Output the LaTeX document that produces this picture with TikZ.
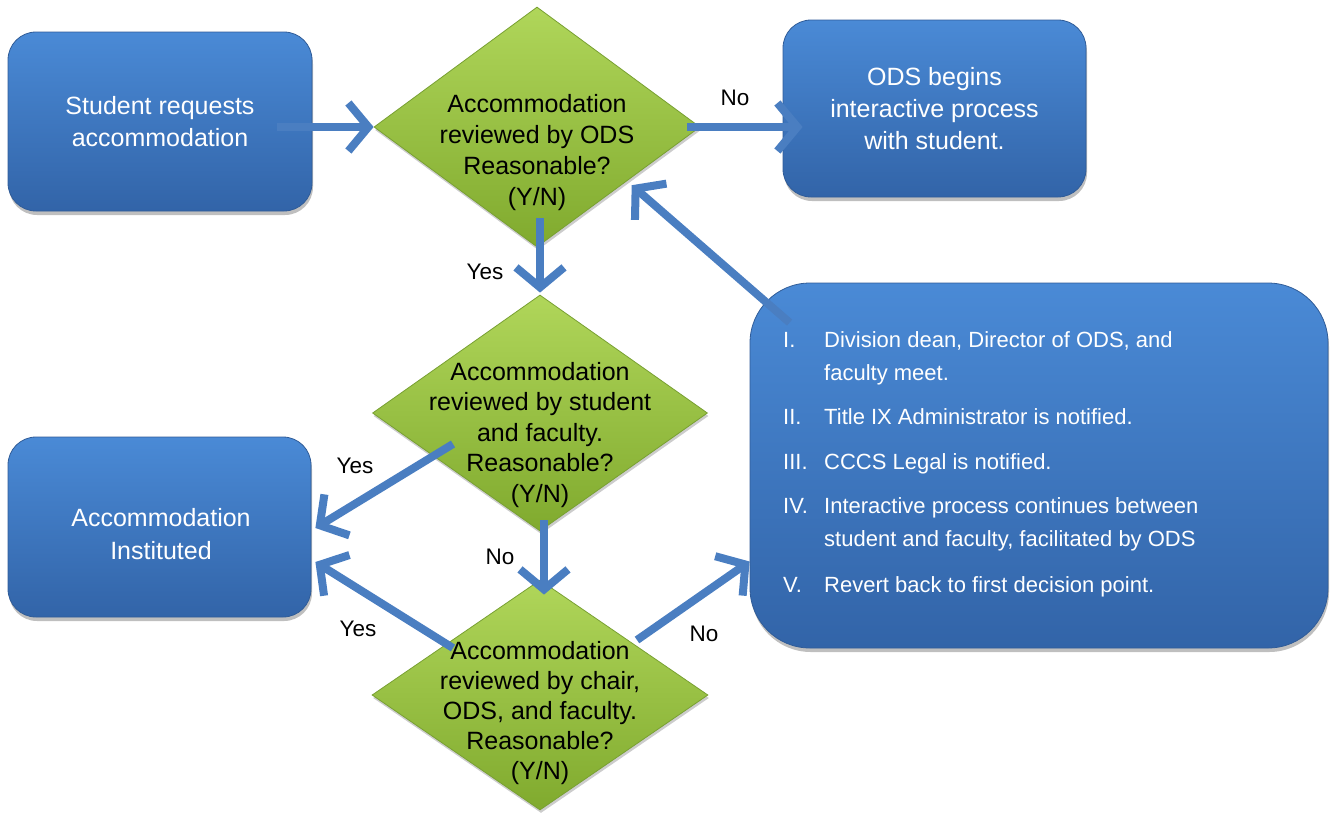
\documentclass[tikz,border=0pt]{standalone}
\usepackage{fontspec}
\setmainfont{Liberation Sans}
\usetikzlibrary{shapes.geometric,arrows.meta,shadows,calc}

\definecolor{boxtop}{RGB}{74,138,214}
\definecolor{boxbot}{RGB}{50,100,168}
\definecolor{boxedge}{RGB}{48,92,152}
\definecolor{dtop}{RGB}{176,214,90}
\definecolor{dbot}{RGB}{128,170,46}
\definecolor{dedge}{RGB}{120,160,50}
\definecolor{flowblue}{RGB}{74,126,193}

\tikzset{
  bluebox/.style={rectangle, rounded corners=28pt, top color=boxtop, bottom color=boxbot,
    draw=boxedge, line width=0.8pt, text=white, align=center,
    font=\fontsize{25}{32}\selectfont,
    drop shadow={shadow xshift=1pt, shadow yshift=-4pt, opacity=0.25, fill=black}},
  boxtext/.style={align=center, text=white, font=\fontsize{25}{33}\selectfont},
  decision/.style={diamond, inner sep=0pt, top color=dtop, bottom color=dbot,
    draw=dedge, line width=0.8pt,
    drop shadow={shadow xshift=1pt, shadow yshift=-3pt, opacity=0.2, fill=black}},
  dtext/.style={align=center, text=black, font=\fontsize{25}{31}\selectfont},
  flow/.style={draw=flowblue, line width=8pt,
    -{Straight Barb[length=20pt, width=48pt, line width=8pt]}},
  lbl/.style={text=black, font=\fontsize{22.5}{27}\selectfont, inner sep=0pt}
}

\begin{document}
\begin{tikzpicture}[x=1pt, y=-1pt]
\useasboundingbox (0,0) rectangle (1330,812);

% process boxes
\node[bluebox, minimum width=304pt, minimum height=179pt] (req) at (160,121.5)
  {Student requests\\accommodation};
\node[bluebox, minimum width=303pt, minimum height=177pt] (ods) at (934.5,108.5)
  {ODS begins\\interactive process\\with student.};
\node[bluebox, minimum width=303pt, minimum height=180pt] (inst) at (159.5,527) {};
\node[boxtext] (instt) at (161,534) {Accommodation\\Instituted};
\node[bluebox, rounded corners=60pt, minimum width=578pt, minimum height=365pt] (steps) at (1039,465.5) {};

% decision diamonds
\node[decision, minimum width=326pt, minimum height=240pt] (q1) at (537,127) {};
\node[decision, minimum width=335pt, minimum height=236pt] (q2) at (540,413) {};
\node[decision, minimum width=336pt, minimum height=230pt] (q3) at (540,695) {};

\node[dtext] (q1t) at (537,153) {Accommodation\\reviewed by ODS\\Reasonable?\\(Y/N)};
\node[dtext, font=\fontsize{25}{30.5}\selectfont] (q2t) at (540,435)
  {Accommodation\\reviewed by student\\and faculty.\\Reasonable?\\(Y/N)};
\node[dtext, font=\fontsize{25}{30}\selectfont] (q3t) at (540,713)
  {Accommodation\\reviewed by chair,\\ODS, and faculty.\\Reasonable?\\(Y/N)};

% numbered steps
\node[anchor=north west, inner sep=0pt, align=left, text=white,
  font=\fontsize{22}{33}\selectfont] (stepstext) at (783,331)
  {\makebox[41pt][l]{I.}Division dean, Director of ODS, and\\
   \hspace*{41pt}faculty meet.\\[11pt]
   \makebox[41pt][l]{II.}Title IX Administrator is notified.\\[12pt]
   \makebox[41pt][l]{III.}CCCS Legal is notified.\\[11pt]
   \makebox[41pt][l]{IV.}Interactive process continues between\\
   \hspace*{41pt}student and faculty, facilitated by ODS\\[13pt]
   \makebox[41pt][l]{V.}Revert back to first decision point.};

% connectors
\draw[flow] ($(q1.west -| req.east)+(-35,0)$) -- (q1.west);
\draw[flow] ($(q1.east)+(-13,0)$) -- ($(q1.east -| ods.west)+(20,0)$);
\draw[flow] ($(q2.north |- q1.south)+(0,-29)$) -- ($(q2.north)+(0,-2)$);
\draw[flow] ($(steps.north west)+(40,40)$) -- ($(q1.south east)+(13,-2)$);
\draw[flow] ($(q2.center)+(-87,31)$) -- ($(inst.east)+(4,1)$);
\draw[flow] ($(q2.south)+(4,-11)$) -- ($(q3.north)+(4,15)$);
\draw[flow] ($(q3.center)+(-87,-47)$) -- ($(inst.east)+(4,35)$);
\draw[flow] ($(q3.center)+(97,-55)$) -- ($(steps.west)+(0,96)$);

% branch labels
\node[lbl] (lno1)  at (735,98)  {No};
\node[lbl] (lyes1) at (485,272) {Yes};
\node[lbl] (lyes2) at (355,466) {Yes};
\node[lbl] (lno2)  at (500,557) {No};
\node[lbl] (lyes3) at (358,629) {Yes};
\node[lbl] (lno3)  at (704,634) {No};
\end{tikzpicture}
\end{document}
